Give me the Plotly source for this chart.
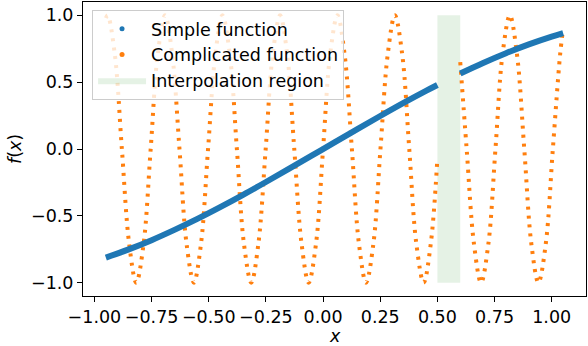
import plotly.graph_objects as go

# values
simple_x = [-0.95, -0.85, -0.75, -0.65, -0.55, -0.45, -0.35, -0.25, -0.15, -0.05,
            0.05, 0.15, 0.25, 0.35, 0.45, 0.50, None,
            0.60, 0.70, 0.80, 0.90, 1.00, 1.05]
simple_y = [-0.813, -0.751, -0.682, -0.605, -0.523, -0.435, -0.343, -0.247, -0.149, -0.050,
            0.050, 0.149, 0.247, 0.343, 0.435, 0.479, None,
            0.565, 0.644, 0.717, 0.783, 0.841, 0.867]

compl_x = [-0.950, -0.942, -0.911, -0.880, -0.848, -0.817, -0.785, -0.754, -0.723, -0.691,
           -0.660, -0.628, -0.597, -0.565, -0.534, -0.503, -0.471, -0.440, -0.408, -0.377,
           -0.346, -0.314, -0.283, -0.251, -0.220, -0.188, -0.157, -0.126, -0.094, -0.063,
           -0.031, 0.000, 0.031, 0.063, 0.094, 0.126, 0.157, 0.188, 0.220, 0.251,
           0.283, 0.314, 0.346, 0.377, 0.408, 0.440, 0.471, 0.500, None,
           0.600, 0.628, 0.660, 0.691, 0.723, 0.754, 0.785, 0.817, 0.848, 0.880,
           0.911, 0.942, 0.974, 1.005, 1.037, 1.050]
compl_y = [0.98, 1.0, 0.71, 0.0, -0.71, -1.0, -0.71, 0.0, 0.71, 1.0,
           0.71, 0.0, -0.71, -1.0, -0.71, 0.0, 0.71, 1.0, 0.71, 0.0,
           -0.71, -1.0, -0.71, 0.0, 0.71, 1.0, 0.71, 0.0, -0.71, -1.0,
           -0.71, 0.0, 0.71, 1.0, 0.71, 0.0, -0.71, -1.0, -0.71, 0.0,
           0.71, 1.0, 0.71, 0.0, -0.71, -1.0, -0.71, -0.07, None,
           0.65, 0.0, -0.71, -1.0, -0.71, 0.0, 0.71, 1.0, 0.71, 0.0,
           -0.71, -1.0, -0.71, 0.0, 0.71, 0.90]

interp_lo, interp_hi = 0.5, 0.6
band_lo, band_hi = -1.0, 1.0

x_ticks = [-1.0, -0.75, -0.5, -0.25, 0.0, 0.25, 0.5, 0.75, 1.0]
y_ticks = [-1.0, -0.5, 0.0, 0.5, 1.0]

BLUE = "#1f77b4"
ORANGE = "#ff7f0e"
FONT = "DejaVu Sans"
FS = 17.5

fig = go.Figure()

# interpolation band (under the data, like axvspan)
fig.add_trace(go.Scatter(
    x=[interp_lo, interp_hi, interp_hi, interp_lo, interp_lo],
    y=[band_lo, band_lo, band_hi, band_hi, band_lo],
    fill="toself", fillcolor="rgba(0,128,0,0.1)", mode="lines",
    line=dict(width=0), name="Interpolation region",
    legendrank=3,
))

fig.add_trace(go.Scatter(
    x=compl_x, y=compl_y, mode="lines",
    line=dict(color=ORANGE, width=4, shape="spline", smoothing=1.0, dash="3px,6px"),
    showlegend=False,
))
fig.add_trace(go.Scatter(
    x=simple_x, y=simple_y, mode="lines",
    line=dict(color=BLUE, width=6, shape="spline"),
    showlegend=False,
))

# legend-only dot entries
fig.add_trace(go.Scatter(x=[None], y=[None], mode="markers",
                         marker=dict(color=BLUE, size=5), name="Simple function",
                         legendrank=1))
fig.add_trace(go.Scatter(x=[None], y=[None], mode="markers",
                         marker=dict(color=ORANGE, size=5), name="Complicated function",
                         legendrank=2))

axis_common = dict(
    showline=True, mirror=True, linecolor="black", linewidth=1,
    ticks="outside", ticklen=5, tickwidth=1, tickcolor="black",
    showgrid=False, zeroline=False, automargin=False,
    tickfont=dict(family=FONT, size=FS, color="black"),
)

fig.update_xaxes(range=[-1.05, 1.15], tickvals=x_ticks, tickformat=".2f", **axis_common)
fig.update_yaxes(range=[-1.1, 1.1], tickvals=y_ticks, tickformat=".1f", **axis_common)

title_font = dict(family=FONT, size=FS, color="black")
fig.add_annotation(text="<i>x</i>", xref="paper", yref="paper", x=0.5, y=0,
                   xanchor="center", yanchor="middle", yshift=-40,
                   showarrow=False, font=title_font)
fig.add_annotation(text="<i>f</i>(<i>x</i>)", xref="paper", yref="paper", x=0, y=0.5,
                   xanchor="center", yanchor="middle", xshift=-68, textangle=-90,
                   showarrow=False, font=title_font)

fig.update_layout(
    width=588, height=346,
    margin=dict(l=83, r=2, t=2, b=50),
    plot_bgcolor="white", paper_bgcolor="white",
    font=dict(family=FONT, size=FS, color="black"),
    legend=dict(
        x=0.018, y=0.973, xanchor="left", yanchor="top",
        bgcolor="rgba(255,255,255,0.8)", bordercolor="#cccccc", borderwidth=1,
        itemwidth=48,
        font=dict(family=FONT, size=FS, color="black"),
    ),
)

# drop the browser's default 8px body margin so the figure sits at the page corner
fig.write_html("out.html", config={"displayModeBar": False},
               post_script="document.body.style.margin='0px';")
